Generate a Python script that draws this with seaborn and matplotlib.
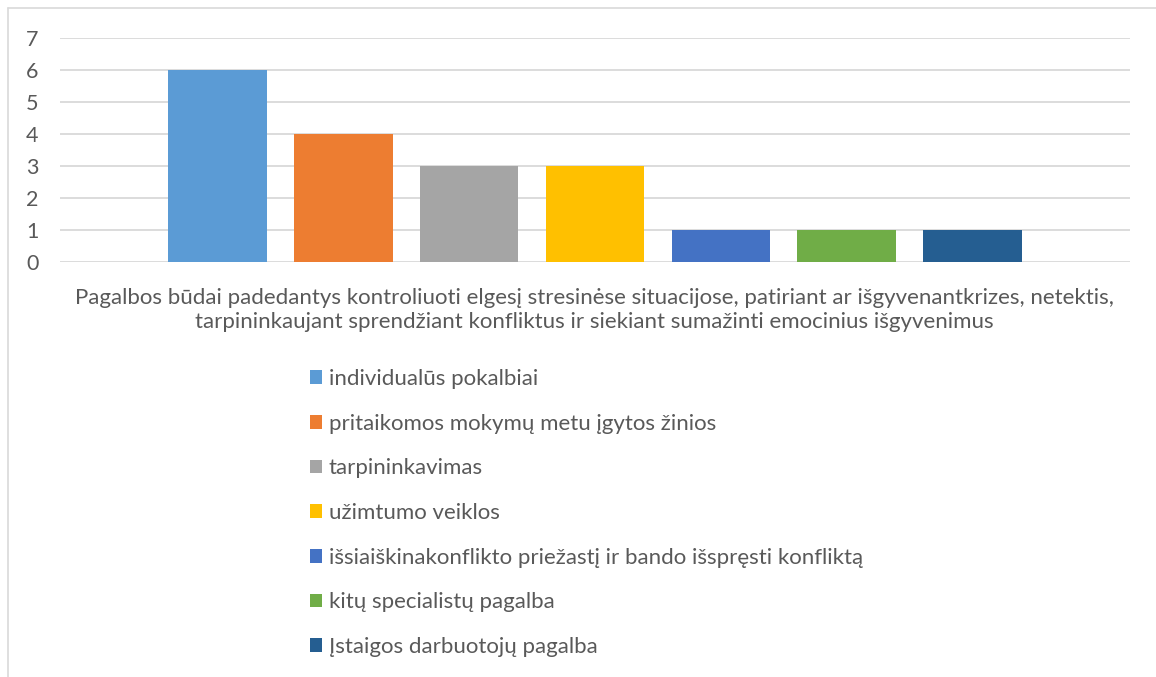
import pandas as pd
import seaborn as sns
import matplotlib.pyplot as plt
from matplotlib.lines import Line2D
from matplotlib.patches import Patch

# Data
category = ["Pagalbos būdai"]
series = [
    "individualūs pokalbiai",
    "pritaikomos mokymų metu įgytos žinios",
    "tarpininkavimas",
    "užimtumo veiklos",
    "išsiaiškinakonflikto priežastį ir bando išspręsti konfliktą",
    "kitų specialistų pagalba",
    "Įstaigos darbuotojų pagalba",
]
values = [6, 4, 3, 3, 1, 1, 1]
colors = ["#5B9BD5", "#ED7D31", "#A5A5A5", "#FFC000", "#4472C4", "#70AD47", "#255E91"]

x_title = ("Pagalbos būdai padedantys kontroliuoti elgesį stresinėse situacijose, patiriant ar išgyvenantkrizes, netektis,\n"
           "tarpininkaujant sprendžiant konfliktus ir siekiant sumažinti emocinius išgyvenimus")

df = pd.DataFrame({"cat": category * len(series), "series": series, "value": values})

sns.set_theme(style="white")
plt.rcParams["font.family"] = ["Lato", "DejaVu Sans"]
text_color = "#595959"

fig = plt.figure(figsize=(11.56, 6.77), dpi=100)
ax = fig.add_axes([60 / 1156, 1 - 262 / 677, 1070 / 1156, 224 / 677])

sns.barplot(data=df, x="cat", y="value", hue="series", hue_order=series,
            palette=colors, width=0.824, gap=0.215, saturation=1,
            linewidth=0, legend=False, ax=ax)

ax.set_xlim(-0.5, 0.5)
ax.set_ylim(0, 7)
ax.set_yticks(range(0, 8))
ax.yaxis.grid(True, color="#D9D9D9", linewidth=1.3)
ax.set_axisbelow(True)
for s in ax.spines.values():
    s.set_visible(False)
ax.set_xticks([])
ax.set_xlabel("")
ax.set_ylabel("")
ax.tick_params(axis="y", length=0, pad=20, labelsize=15.5, labelcolor=text_color)
for lbl in ax.get_yticklabels():
    lbl.set_horizontalalignment("center")

fig.text(594 / 1156, 1 - 310 / 677, x_title, ha="center", va="center",
         fontsize=16, color=text_color, linespacing=1.23)

handles = [Patch(facecolor=c, edgecolor="none") for c in colors]
leg = fig.legend(handles, series, loc="upper left",
                 bbox_to_anchor=(290 / 1156, 1 - 349 / 677),
                 frameon=False, fontsize=16, labelspacing=1.11,
                 handlelength=0.55, handleheight=0.55, handletextpad=0.3)
for t in leg.get_texts():
    t.set_color(text_color)

# chart frame (top and left edges visible)
fig.add_artist(Line2D([8 / 1156, 8 / 1156], [0, 1 - 8 / 677], transform=fig.transFigure,
                      color="#D9D9D9", linewidth=1.2))
fig.add_artist(Line2D([8 / 1156, 1], [1 - 8 / 677, 1 - 8 / 677], transform=fig.transFigure,
                      color="#D9D9D9", linewidth=1.2))

fig.savefig("out.png", dpi=100, facecolor="white")
